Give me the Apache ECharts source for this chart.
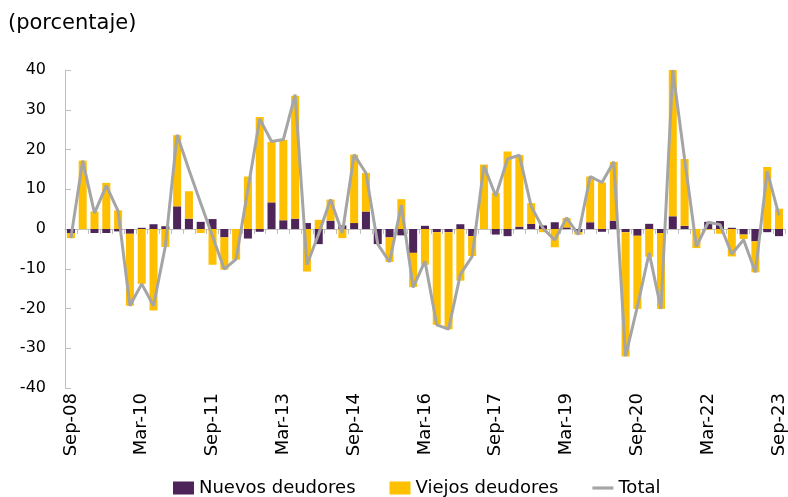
<!DOCTYPE html>
<html>
<head>
<meta charset="utf-8">
<script src="https://cdn.jsdelivr.net/npm/echarts@6/dist/echarts.min.js"></script>
<style>
  html, body { margin: 0; padding: 0; background: #fff; }
  #main { width: 788px; height: 497px; }
</style>
</head>
<body>
<div id="main"></div>
<script>
// trimestres Sep-08 ... Sep-23
const quarters = [
  'Sep-08','Dec-08',
  'Mar-09','Jun-09','Sep-09','Dec-09',
  'Mar-10','Jun-10','Sep-10','Dec-10',
  'Mar-11','Jun-11','Sep-11','Dec-11',
  'Mar-12','Jun-12','Sep-12','Dec-12',
  'Mar-13','Jun-13','Sep-13','Dec-13',
  'Mar-14','Jun-14','Sep-14','Dec-14',
  'Mar-15','Jun-15','Sep-15','Dec-15',
  'Mar-16','Jun-16','Sep-16','Dec-16',
  'Mar-17','Jun-17','Sep-17','Dec-17',
  'Mar-18','Jun-18','Sep-18','Dec-18',
  'Mar-19','Jun-19','Sep-19','Dec-19',
  'Mar-20','Jun-20','Sep-20','Dec-20',
  'Mar-21','Jun-21','Sep-21','Dec-21',
  'Mar-22','Jun-22','Sep-22','Dec-22',
  'Mar-23','Jun-23','Sep-23'
];

const nuevos = [
  -1.0, 0, -1.0, -1.0, -0.6, -1.2, 0.3, 1.2, 0.7, 5.7,
  2.6, 1.8, 2.5, -2.1, 0, -2.4, -0.7, 6.7, 2.2, 2.6,
  1.5, -3.8, 2.1, 0.9, 1.5, 4.4, -3.8, -2.1, -1.6, -6.0,
  0.8, -0.8, -0.8, 1.2, -1.8, 0, -1.4, -1.8, 0.6, 1.3,
  0.9, 1.7, 0.4, -0.8, 1.7, -0.7, 2.1, -0.8, -1.7, 1.3,
  -1.0, 3.2, 0.8, 0, 1.8, 2.0, 0.3, -1.4, -3.1, -0.8,
  -1.8
];

const viejos = [
  -1.3, 17.2, 4.4, 11.6, 4.7, -18.1, -13.8, -20.5, -4.5, 17.9,
  6.9, -1.0, -9.0, -8.1, -7.7, 13.2, 28.2, 15.2, 20.2, 30.9,
  -10.7, 2.3, 5.3, -2.3, 17.2, 9.7, 0, -6.2, 7.5, -8.6,
  -9.0, -23.3, -24.4, -13.0, -5.0, 16.2, 9.1, 19.5, 18.0, 5.2,
  -0.8, -4.6, 2.4, -0.6, 11.5, 11.7, 14.8, -31.3, -18.4, -7.0,
  -19.1, 36.8, 16.8, -4.8, -0.2, -1.2, -6.9, -1.1, -7.8, 15.6,
  5.1
];

const total = [
  -2.3, 17.2, 4.0, 10.9, 4.5, -19.3, -13.8, -19.3, -4.4, 23.7,
  14.9, 6.5, -1.8, -10.1, -7.6, 10.0, 27.7, 22.0, 22.5, 33.8,
  -9.0, -1.2, 7.4, -1.0, 18.7, 14.1, -3.8, -8.3, 6.0, -14.7,
  -8.1, -24.1, -25.2, -11.4, -6.9, 15.9, 8.3, 17.6, 18.6, 5.7,
  0.2, -2.8, 2.8, -1.4, 13.2, 11.7, 16.9, -32.0, -19.5, -6.0,
  -20.1, 40.0, 17.6, -4.4, 1.7, 1.1, -6.3, -2.7, -10.9, 14.5,
  3.4
];

const chart = echarts.init(document.getElementById('main'));
const font = 'DejaVu Sans';

const option = {
  backgroundColor: '#fff',
  animation: false,
  textStyle: { fontFamily: font },
  title: {
    text: '(porcentaje)',
    left: 3, top: 8,
    textStyle: { fontFamily: font, fontSize: 21, fontWeight: 'normal', color: '#000' }
  },
  legend: {
    top: 474,
    left: 168,
    itemWidth: 21,
    itemHeight: 13,
    itemGap: 34,
    textStyle: { fontFamily: font, fontSize: 18, color: '#000' },
    data: [
      { name: 'Nuevos deudores', icon: 'rect' },
      { name: 'Viejos deudores', icon: 'rect' },
      { name: 'Total', icon: 'path://M0,0 L20,0 L20,3 L0,3 Z' }
    ]
  },
  grid: { left: 65, right: 3, top: 70, bottom: 109 },
  xAxis: [
    {
      // etiquetas abajo
      type: 'category',
      data: quarters,
      position: 'bottom',
      axisLine: { show: false, onZero: false },
      axisTick: { show: false },
      axisLabel: { interval: 5, rotate: 90, fontSize: 18, color: '#000', margin: 5 },
      splitLine: { show: false }
    },
    {
      // linea del cero
      type: 'category',
      data: quarters,
      position: 'top',
      axisLine: { show: true, onZero: true, lineStyle: { color: '#bfbfbf', width: 1 } },
      axisTick: { show: true, inside: true, length: 5, interval: 0, lineStyle: { color: '#bfbfbf' } },
      axisLabel: { show: false },
      splitLine: { show: false }
    }
  ],
  yAxis: {
    type: 'value',
    min: -40, max: 40, interval: 10,
    axisLine: { show: true, lineStyle: { color: '#bfbfbf' } },
    axisTick: { show: true, inside: true, length: 6, lineStyle: { color: '#bfbfbf' } },
    axisLabel: { fontSize: 16, color: '#000', margin: 19 },
    splitLine: { show: false }
  },
  series: [
    {
      name: 'Nuevos deudores',
      type: 'bar',
      stack: 'd',
      barWidth: '68%',
      itemStyle: { color: '#4d2559' },
      data: nuevos
    },
    {
      name: 'Viejos deudores',
      type: 'bar',
      stack: 'd',
      barWidth: '68%',
      itemStyle: { color: '#ffc000' },
      data: viejos
    },
    {
      name: 'Total',
      type: 'line',
      symbol: 'none',
      z: 5,
      lineStyle: { color: '#a5a5a5', width: 3 },
      itemStyle: { color: '#a5a5a5' },
      data: total
    }
  ]
};

chart.setOption(option);
</script>
</body>
</html>
